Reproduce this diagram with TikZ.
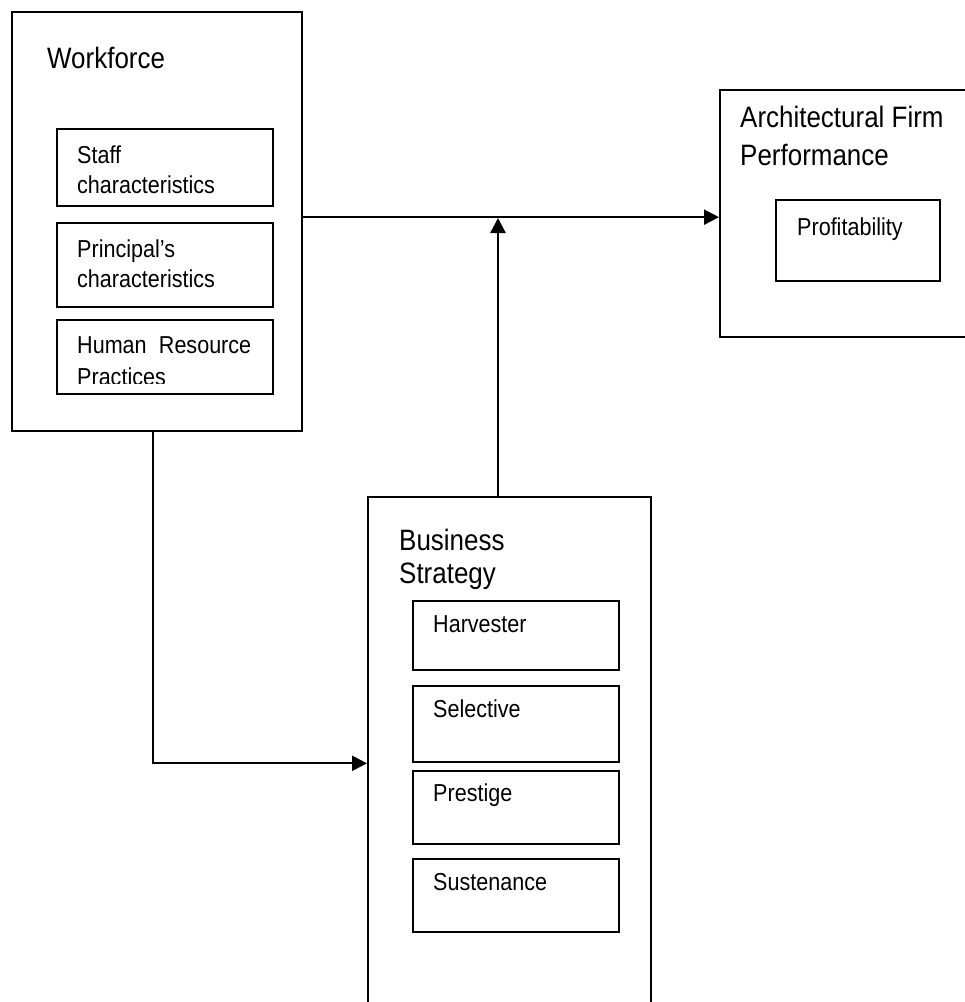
\documentclass[tikz,border=0pt]{standalone}
\usepackage{fontspec}
\setmainfont{Liberation Sans}[FakeStretch=0.88]
\usetikzlibrary{arrows.meta}

\tikzset{
  panel/.style={draw, line width=2.3pt, anchor=north west, inner sep=0pt},
  factor/.style={draw, line width=2.3pt, anchor=north west, inner sep=0pt},
  heading/.style={anchor=base west, inner sep=0pt, align=left, font=\fontsize{29.5}{33}\selectfont},
  item/.style={anchor=base west, inner sep=0pt, align=left, font=\fontsize{24.5}{30}\selectfont},
  link/.style={line width=2.3pt, -{Triangle[length=15pt,width=15pt]}}
}

\begin{document}
\begin{tikzpicture}[x=1pt,y=-1pt]
\useasboundingbox (0,0) rectangle (965,1002);

% workforce
\node[panel, minimum width=290pt, minimum height=419pt] (wf) at (11,11) {};
\node[heading] (wftitle) at (47,68) {Workforce};
\node[factor, minimum width=216pt, minimum height=77pt] (staff) at (56,128) {};
\node[factor, minimum width=216pt, minimum height=84pt] (princ) at (56,222) {};
\node[factor, minimum width=216pt, minimum height=74pt] (hrp) at (56,319) {};
\node[item] (stafftext) at (77,193) {Staff\\characteristics};
\node[item] (princtext) at (77,287) {Principal's\\characteristics};
\begin{scope}
  \clip (56,319) rectangle (272,383);
  \node[item, font=\fontsize{24.5}{32}\selectfont] (hrptext) at (77,385.5) {Human\enspace Resource\\Practices};
\end{scope}

% performance
\node[panel, minimum width=256pt, minimum height=247pt] (perf) at (719,89) {};
\node[heading, font=\fontsize{29.5}{37.5}\selectfont] (perftitle) at (740,165) {Architectural Firm\\Performance};
\node[factor, minimum width=164pt, minimum height=81pt] (profit) at (775,199) {};
\node[item] (profittext) at (797,235) {Profitability};

% business strategy
\node[panel, minimum width=283pt, minimum height=516pt] (bs) at (367,496) {};
\node[heading] (bstitle) at (399,583) {Business\\Strategy};
\node[factor, minimum width=206pt, minimum height=69pt] (harv) at (412,600) {};
\node[factor, minimum width=206pt, minimum height=76pt] (sel) at (412,685) {};
\node[factor, minimum width=206pt, minimum height=73pt] (prest) at (412,770) {};
\node[factor, minimum width=206pt, minimum height=73pt] (sust) at (412,858) {};
\node[item] (harvtext) at (433,632) {Harvester};
\node[item] (seltext) at (433,717) {Selective};
\node[item] (presttext) at (433,801) {Prestige};
\node[item] (susttext) at (433,890) {Sustenance};

% connectors
\coordinate (join) at (498,218);
\draw[link] ([yshift=4.5pt]wf.east) -- ([yshift=4.5pt]wf.east -| perf.west);
\draw[link] (bs.north -| join) -- (join);
\draw[link] ([xshift=-4pt]wf.south) |- (sel.south -| bs.west);
\end{tikzpicture}
\end{document}
